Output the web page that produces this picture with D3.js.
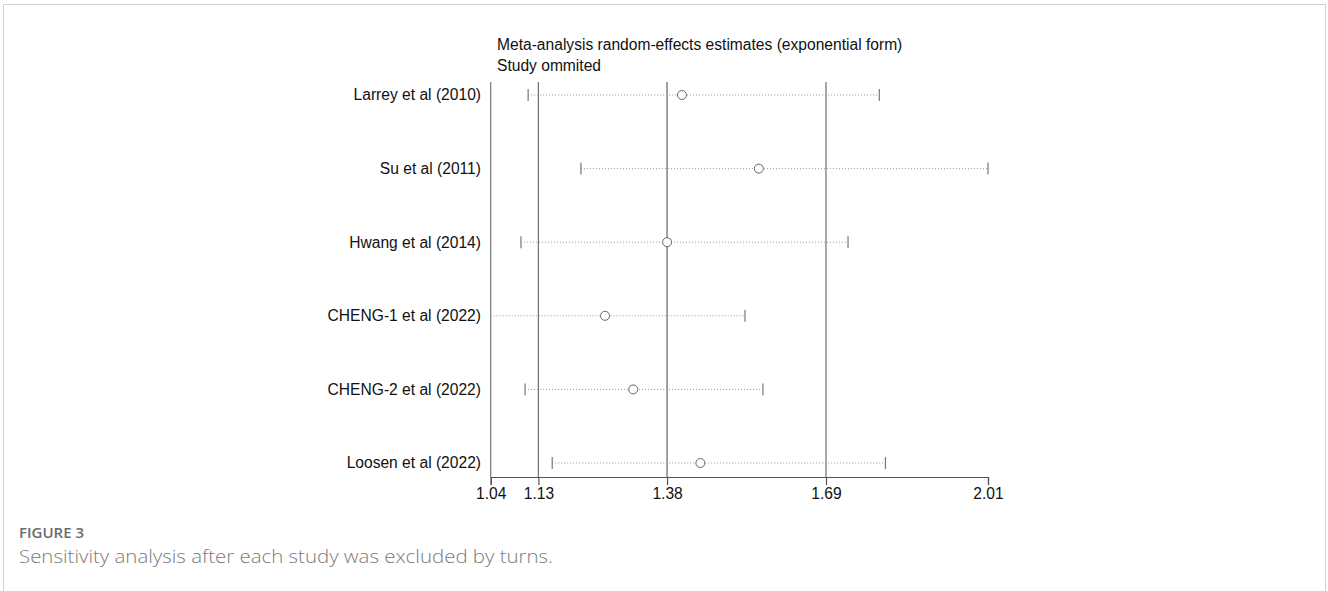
<!DOCTYPE html>
<html>
<head>
<meta charset="utf-8">
<script src="https://cdn.jsdelivr.net/npm/d3@7"></script>
<style>
  body { margin: 0; background: #fff; }
</style>
</head>
<body>
<div id="chart"></div>
<script>
// studies omitted, one per row
const studies = [
  "Larrey et al (2010)",
  "Su et al (2011)",
  "Hwang et al (2014)",
  "CHENG-1 et al (2022)",
  "CHENG-2 et al (2022)",
  "Loosen et al (2022)"
];
const estimates = [1.413, 1.563, 1.384, 1.263, 1.318, 1.449];
const lower = [1.113, 1.216, 1.099, 1.04, 1.107, 1.160];
const upper = [1.798, 2.01, 1.737, 1.536, 1.571, 1.810];

// x ticks: overall estimate and its CI, plus axis ends
const tickValues = [1.04, 1.133, 1.384, 1.694, 2.01];
const refLines = [1.133, 1.384, 1.694];

const width = 1328;
const height = 591;
const plotLeft = 490.7;
const plotRight = 988;
const plotTop = 82;
const axisY = 477;
const sans = "'Liberation Sans', Arial, sans-serif";
const fs = 15.6;

const svg = d3.select("#chart")
  .append("svg")
  .attr("width", width)
  .attr("height", height);

// frame
svg.append("path")
  .attr("d", `M3.5,${height} V4.5 H${width - 2.5} V${height}`)
  .attr("fill", "none")
  .attr("stroke", "#cfcfcf");

const x = d3.scaleLinear().domain([1.04, 2.01]).range([plotLeft, plotRight]);
const y = d3.scalePoint().domain(studies).range([95, 463]);

// title
svg.append("text")
  .attr("x", 497).attr("y", 50)
  .style("font-family", sans)
  .attr("font-size", fs).attr("fill", "#111")
  .text("Meta-analysis random-effects estimates (exponential form)");
svg.append("text")
  .attr("x", 497).attr("y", 71)
  .style("font-family", sans)
  .attr("font-size", fs).attr("fill", "#111")
  .text("Study ommited");

// left vertical line
svg.append("line")
  .attr("x1", plotLeft).attr("x2", plotLeft)
  .attr("y1", plotTop).attr("y2", axisY)
  .attr("stroke", "#777").attr("stroke-width", 1.2);

// reference lines
svg.append("g")
  .selectAll("line")
  .data(refLines)
  .enter()
  .append("line")
  .attr("x1", d => x(d)).attr("x2", d => x(d))
  .attr("y1", plotTop).attr("y2", axisY)
  .attr("stroke", (d, i) => i === 1 ? "#8a8a8a" : "#6f6f6f")
  .attr("stroke-width", (d, i) => i === 1 ? 1.6 : 1.2);

// x axis
const xAxis = d3.axisBottom(x)
  .tickValues(tickValues)
  .tickSize(8)
  .tickPadding(3)
  .tickFormat(d3.format(".2f"));

const ax = svg.append("g")
  .attr("transform", `translate(0,${axisY})`)
  .call(xAxis);
ax.select(".domain").attr("stroke", "#555").attr("stroke-width", 1.2);
ax.selectAll(".tick line").attr("stroke", "#555").attr("stroke-width", 1.2);
ax.selectAll(".tick text")
  .attr("font-size", fs)
  .attr("fill", "#111")
  .style("font-family", sans);

// rows
const rows = svg.append("g")
  .selectAll("g")
  .data(studies)
  .enter()
  .append("g")
  .attr("transform", d => `translate(0,${y(d)})`);

rows.append("text")
  .attr("x", 481).attr("y", 0)
  .attr("dy", "0.35em")
  .attr("text-anchor", "end")
  .style("font-family", sans)
  .attr("font-size", fs)
  .attr("fill", "#111")
  .text(d => d);

rows.append("line")
  .attr("x1", (d, i) => x(lower[i]))
  .attr("x2", (d, i) => x(upper[i]))
  .attr("stroke", "#999")
  .attr("stroke-width", 1)
  .attr("stroke-dasharray", "1,2");

// whisker end caps (none where the bound sits on the axis line)
rows.each(function (d, i) {
  const g = d3.select(this);
  [lower[i], upper[i]].forEach(v => {
    if (v <= 1.04) return;
    g.append("line")
      .attr("x1", x(v)).attr("x2", x(v))
      .attr("y1", -6).attr("y2", 6)
      .attr("stroke", "#777")
      .attr("stroke-width", 1.2);
  });
});

rows.append("circle")
  .attr("cx", (d, i) => x(estimates[i]))
  .attr("cy", 0)
  .attr("r", 4.5)
  .attr("fill", "#fff")
  .attr("stroke", "#666")
  .attr("stroke-width", 1);

// caption
svg.append("text")
  .attr("x", 19).attr("y", 538)
  .style("font-family", "'Open Sans', sans-serif")
  .attr("font-size", 14)
  .attr("font-weight", 600)
  .attr("fill", "#6b6b6b")
  .attr("textLength", 65)
  .attr("lengthAdjust", "spacingAndGlyphs")
  .text("FIGURE 3");
svg.append("text")
  .attr("x", 19).attr("y", 563)
  .style("font-family", "'Open Sans', sans-serif")
  .attr("font-size", 18.5)
  .attr("font-weight", 300)
  .attr("fill", "#7a7a7a")
  .attr("textLength", 534)
  .attr("lengthAdjust", "spacingAndGlyphs")
  .text("Sensitivity analysis after each study was excluded by turns.");
</script>
</body>
</html>
